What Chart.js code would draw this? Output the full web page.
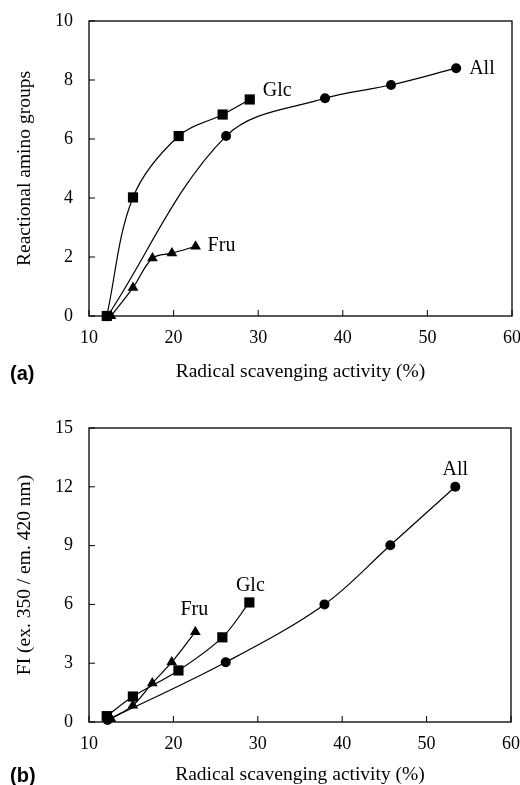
<!DOCTYPE html>
<html>
<head>
<meta charset="utf-8">
<script src="https://cdn.jsdelivr.net/npm/chart.js"></script>
<style>
body{margin:0;background:#fff}
#wrap{position:relative;width:520px;height:785px}
canvas{position:absolute;left:0}
.tag{position:absolute;left:10px;font:bold 20px "Liberation Sans",Arial,sans-serif;line-height:20px}
</style>
</head>
<body>
<div id="wrap">
  <canvas id="ca" width="520" height="390" style="top:0"></canvas>
  <canvas id="cb" width="520" height="395" style="top:390px"></canvas>
  <div class="tag" style="top:363px">(a)</div>
  <div class="tag" style="top:765px">(b)</div>
</div>
<script>
// radical scavenging activity (%) for each sample set
const xAll = [12.2, 26.2, 37.9, 45.7, 53.4];
const xGlc = [12.1, 15.2, 20.6, 25.8, 29.0];
const xFru = [12.6, 15.2, 17.5, 19.8, 22.6];

// (a) reactional amino groups
const aminoAll = [0, 6.1, 7.38, 7.83, 8.4];
const aminoGlc = [0, 4.02, 6.1, 6.83, 7.34];
const aminoFru = [0, 0.96, 1.96, 2.13, 2.36];

// (b) fluorescence intensity
const fiAll = [0.1, 3.05, 6.0, 9.02, 12.0];
const fiGlc = [0.3, 1.3, 2.63, 4.32, 6.1];
const fiFru = [0.17, 0.85, 1.98, 3.05, 4.6];

const xTicks = [10, 20, 30, 40, 50, 60];
const aTicks = [0, 2, 4, 6, 8, 10];
const bTicks = [0, 3, 6, 9, 12, 15];

const serif = "'Liberation Serif','Times New Roman',serif";

const frame = {
  id:'frame',
  afterDraw(c){
    const {ctx, chartArea:a, scales} = c;
    ctx.save();
    ctx.strokeStyle = '#000';
    ctx.lineWidth = 1.3;
    ctx.strokeRect(a.left, a.top, a.right-a.left, a.bottom-a.top);
    ctx.lineWidth = 1;
    ctx.beginPath();
    scales.x.ticks.forEach(t=>{
      const px = scales.x.getPixelForValue(t.value);
      ctx.moveTo(px, a.bottom); ctx.lineTo(px, a.bottom-6);
    });
    scales.y.ticks.forEach(t=>{
      const py = scales.y.getPixelForValue(t.value);
      ctx.moveTo(a.left, py); ctx.lineTo(a.left+6, py);
    });
    ctx.stroke();
    // series names next to the last point
    ctx.fillStyle = '#000';
    ctx.font = '20px ' + serif;
    ctx.textBaseline = 'middle';
    c.options.plugins.frame.tags.forEach(tg=>{
      const pts = c.getDatasetMeta(tg.ds).data;
      const p = pts[pts.length-1];
      ctx.textAlign = tg.align;
      ctx.fillText(c.data.datasets[tg.ds].label, p.x+tg.dx, p.y+tg.dy);
    });
    ctx.restore();
  }
};

function ds(label, xs, ys, style, r){
  return {
    label,
    data: xs.map((x,i)=>({x, y:ys[i]})),
    showLine:true,
    tension:0.35,
    borderColor:'#000',
    borderWidth:1.2,
    backgroundColor:'#000',
    pointStyle:style,
    pointRadius:r,
    pointBorderWidth:0,
    clip:false
  };
}

function makeChart(el, ys, yTicks, yTitle, tags, lay){
  return new Chart(el, {
    type:'scatter',
    data:{datasets:[
      ds('All', xAll, ys[0], 'circle', 5),
      ds('Glc', xGlc, ys[1], 'rect', 7.2),
      ds('Fru', xFru, ys[2], 'triangle', 6.2)
    ]},
    options:{
      responsive:false,
      animation:false,
      layout:{padding:{top:lay.top, right:lay.right, left:0, bottom:0}},
      plugins:{legend:{display:false}, tooltip:{enabled:false}, frame:{tags}},
      scales:{
        x:{
          type:'linear', min:xTicks[0], max:xTicks[xTicks.length-1],
          afterBuildTicks:s=>{ s.ticks = xTicks.map(v=>({value:v})); },
          afterFit:s=>{ s.height = lay.xh; s.paddingLeft = 0; s.paddingRight = 0; },
          grid:{display:false, drawTicks:false},
          border:{display:false},
          ticks:{padding:11, color:'#000', font:{family:serif, size:18}},
          title:{display:true, text:'Radical scavenging activity (%)', color:'#000',
            font:{family:serif, size:19.5, lineHeight:1}, padding:{top:0, bottom:lay.tb}}
        },
        y:{
          type:'linear', min:yTicks[0], max:yTicks[yTicks.length-1],
          afterBuildTicks:s=>{ s.ticks = yTicks.map(v=>({value:v})); },
          afterFit:s=>{ s.width = 89; s.paddingTop = 0; s.paddingBottom = 0; },
          grid:{display:false, drawTicks:false},
          border:{display:false},
          ticks:{padding:16, color:'#000', font:{family:serif, size:18}},
          title:{display:true, text:yTitle, color:'#000',
            font:{family:serif, size:19.5, lineHeight:1}, padding:{top:15, bottom:0}}
        }
      }
    },
    plugins:[frame]
  });
}

makeChart(ca, [aminoAll, aminoGlc, aminoFru], aTicks, 'Reactional amino groups', [
  {ds:0, dx:13, dy:1, align:'left'},
  {ds:1, dx:13, dy:-9, align:'left'},
  {ds:2, dx:12, dy:-1, align:'left'}
], {top:21, right:8, xh:74, tb:8});

makeChart(cb, [fiAll, fiGlc, fiFru], bTicks, 'FI (ex. 350 / em. 420 nm)', [
  {ds:0, dx:0, dy:-17, align:'center'},
  {ds:1, dx:1, dy:-17, align:'center'},
  {ds:2, dx:-1, dy:-22, align:'center'}
], {top:38, right:9, xh:63, tb:0});
</script>
</body>
</html>
